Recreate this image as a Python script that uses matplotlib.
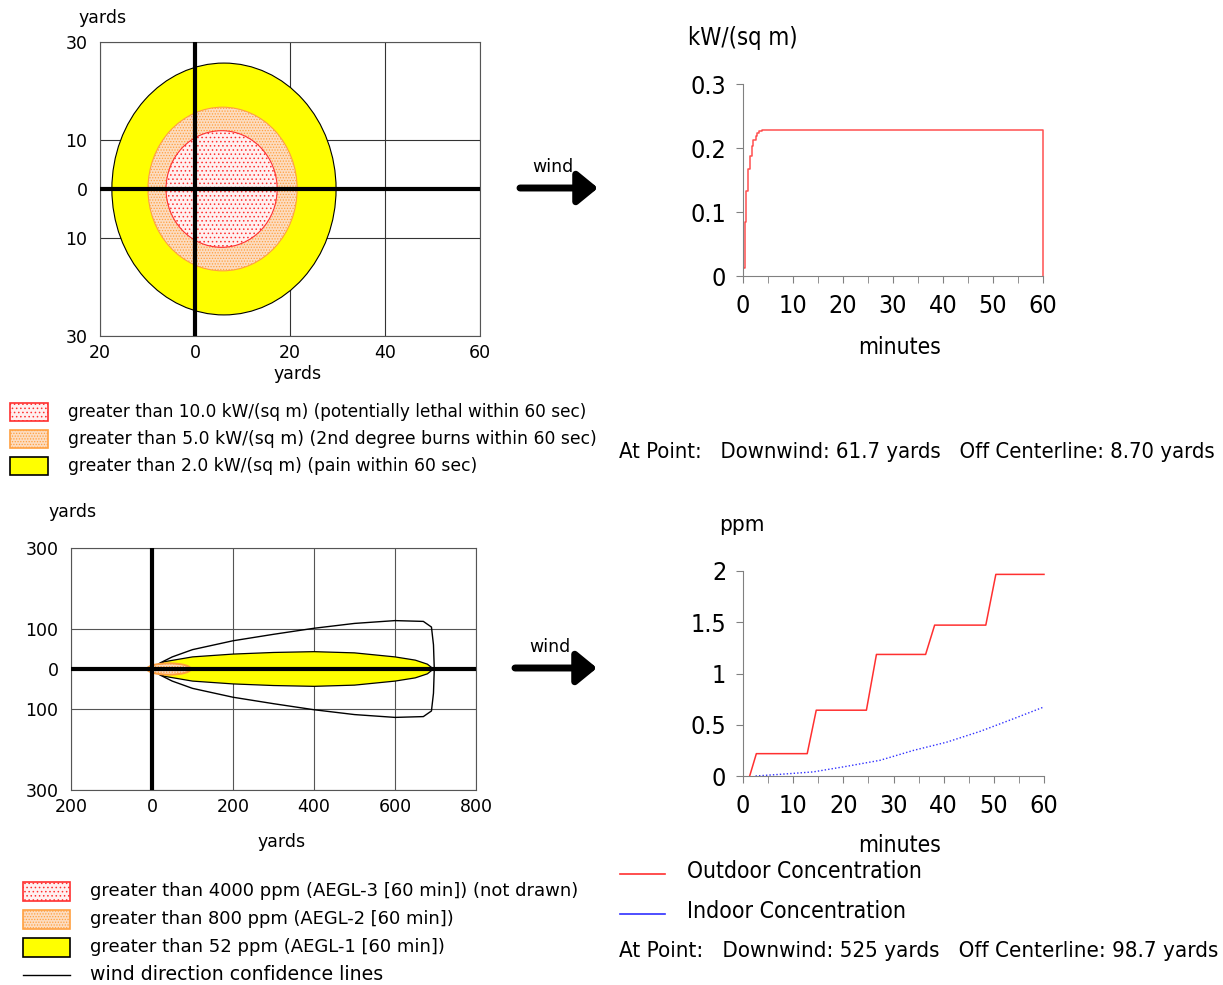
import matplotlib
matplotlib.use("Agg")
import matplotlib.pyplot as plt
from matplotlib import font_manager
from matplotlib.patches import Ellipse, Polygon, Rectangle
from matplotlib.ticker import MultipleLocator
import numpy as np

W, H = 1223, 985

# thermal radiation threat zones (yards): red, orange, yellow
THERMAL_LABELS = [
    "greater than 10.0 kW/(sq m) (potentially lethal within 60 sec)",
    "greater than 5.0 kW/(sq m) (2nd degree burns within 60 sec)",
    "greater than 2.0 kW/(sq m) (pain within 60 sec)",
]
THERMAL_CX = [5.6, 5.8, 6.1]
THERMAL_RX = [11.7, 15.7, 23.6]
THERMAL_RY = [11.9, 16.7, 25.7]

# thermal radiation at the point of interest
HEAT_T = [0.13, 0.33, 0.67, 1.0, 1.33, 1.73, 2.07, 2.53, 2.87, 3.2, 3.87, 60, 60]
HEAT_V = [0.013, 0.084, 0.133, 0.167, 0.188, 0.203, 0.213, 0.218, 0.223, 0.227,
          0.228, 0.228, 0.0]

# toxic threat zones (yards)
TOXIC_LABELS = [
    "greater than 4000 ppm (AEGL-3 [60 min]) (not drawn)",
    "greater than 800 ppm (AEGL-2 [60 min])",
    "greater than 52 ppm (AEGL-1 [60 min])",
    "wind direction confidence lines",
]
PLUME_X = [0, 30, 100, 200, 300, 400, 500, 600, 650, 680, 695]
PLUME_HW = [0, 18, 30, 37, 41, 43, 40, 30, 22, 12, 0]
CONF_X = [0, 20, 50, 100, 200, 300, 400, 500, 600, 670, 690, 695, 697]
CONF_HW = [0, 15, 30, 48, 70, 86, 101, 113, 120, 118, 104, 60, 0]
AEGL2_CX, AEGL2_RX, AEGL2_RY = 42, 54, 14

# concentration at the point of interest
OUT_T = [1.33, 2.66, 12.8, 14.6, 24.6, 26.6, 36.4, 38.2, 48.4, 50.4, 60]
OUT_V = [0, 0.218, 0.218, 0.642, 0.642, 1.186, 1.186, 1.472, 1.472, 1.967, 1.967]
IN_T = [2.5, 7.3, 14, 20.6, 27.3, 34, 40.6, 47.3, 54, 60]
IN_V = [0, 0.016, 0.04, 0.094, 0.153, 0.25, 0.33, 0.436, 0.56, 0.674]

RED_FACE, RED_EDGE = "#fff0f0", "#ff3030"
ORA_FACE, ORA_EDGE = "#fcdcc0", "#ffa040"
YEL = "#ffff00"


def find_narrow():
    # any installed condensed / narrow regular face
    found = {}
    for f in font_manager.fontManager.ttflist:
        base = f.fname.rsplit("/", 1)[-1].lower()
        if any(k in base for k in ("bold", "oblique", "italic", "light")):
            continue
        if "condensed" in base or "narrow" in base:
            found[base] = f.fname
    for pref in ("dejavusanscondensed.ttf", "liberationsansnarrow-regular.ttf"):
        if pref in found:
            return font_manager.FontProperties(fname=found[pref])
    if found:
        return font_manager.FontProperties(fname=sorted(found.values())[0])
    return font_manager.FontProperties(family="DejaVu Sans")


plt.rcParams["font.family"] = ["DejaVu Sans"]
plt.rcParams["hatch.linewidth"] = 0.6
NARROW = find_narrow()

fig = plt.figure(figsize=(W / 100, H / 100), dpi=100)


def px_axes(l, t, r, b):
    return fig.add_axes([l / W, 1 - b / H, (r - l) / W, (b - t) / H])


def fit_text(ax, x, y, s, width, fp=None, **kw):
    t = ax.text(x, y, s, **kw)
    if fp is not None:
        t.set_fontproperties(fp.copy())
        t.set_fontsize(kw.get("fontsize", 18))
    w = t.get_window_extent(fig.canvas.get_renderer()).width
    t.set_fontsize(t.get_fontsize() * width / w)
    return t


def unsigned(v, pos=None):
    return f"{abs(v):g}"


def zone_axes(ax, xlim, ylim, xticks, yticks):
    ax.set_xlim(*xlim)
    ax.set_ylim(*ylim)
    ax.set_xticks(xticks)
    ax.set_yticks(yticks)
    ax.xaxis.set_major_formatter(unsigned)
    ax.yaxis.set_major_formatter(unsigned)
    ax.tick_params(length=0, labelsize=12.5)
    ax.tick_params(axis="y", pad=9)
    ax.tick_params(axis="x", pad=6)
    for s in ax.spines.values():
        s.set_color("#555555")
        s.set_linewidth(0.8)
    ax.axhline(0, color="black", lw=3, zorder=5)
    ax.axvline(0, color="black", lw=3, zorder=5)


def time_axes(ax, ymax, ystep):
    for s in ["top", "right"]:
        ax.spines[s].set_visible(False)
    for s in ["left", "bottom"]:
        ax.spines[s].set_color("#808080")
    ax.set_xlim(0, 60)
    ax.set_ylim(0, ymax)
    ax.xaxis.set_major_locator(MultipleLocator(10))
    ax.xaxis.set_minor_locator(MultipleLocator(5))
    ax.yaxis.set_major_locator(MultipleLocator(ystep))
    ax.yaxis.set_major_formatter(lambda v, p: f"{v:g}")
    ax.tick_params(which="both", direction="out", length=5, color="#808080")
    ax.tick_params(axis="x", pad=8)
    ax.tick_params(axis="y", pad=7)
    for lab in ax.get_xticklabels() + ax.get_yticklabels():
        lab.set_fontproperties(NARROW.copy())
        lab.set_fontsize(18)


# ---- thermal zones ----
ax1 = px_axes(100, 42, 480, 336)
zone_axes(ax1, (-20, 60), (-30, 30), [-20, 0, 20, 40, 60], [-30, -10, 0, 10, 30])
ax1.set_xticks([0, 20, 40], minor=True)
ax1.grid(True, which="both", axis="x", color="#333333", lw=0.8)
ax1.grid(True, axis="y", color="#333333", lw=0.8)
ax1.set_axisbelow(True)
styles = [(RED_FACE, RED_EDGE, "...."), (ORA_FACE, ORA_EDGE, "......"), (YEL, "black", None)]
for i in [2, 1, 0]:
    face, edge, hatch = styles[i]
    ax1.add_patch(Ellipse((THERMAL_CX[i], 0), 2 * THERMAL_RX[i], 2 * THERMAL_RY[i],
                          facecolor=face, edgecolor=edge, hatch=hatch, lw=0.8,
                          zorder=2 + (2 - i) * 0.1))

# ---- thermal radiation at point ----
ax2 = px_axes(743, 84, 1043, 276)
time_axes(ax2, 0.3, 0.1)
ax2.step(HEAT_T, HEAT_V, where="post", color="#ff5050", lw=1.1, clip_on=False)

# ---- toxic zones ----
ax3 = px_axes(71, 548, 476, 790)
zone_axes(ax3, (-200, 800), (-300, 300), [-200, 0, 200, 400, 600, 800],
          [-300, -100, 0, 100, 300])
ax3.grid(True, color="#555555", lw=0.8)
ax3.set_axisbelow(True)
px = np.array(PLUME_X, dtype=float)
hw = np.array(PLUME_HW, dtype=float)
ax3.add_patch(Polygon(np.column_stack([np.r_[px, px[::-1]], np.r_[hw, -hw[::-1]]]),
                      facecolor=YEL, edgecolor="black", lw=0.9, zorder=2))
cx = np.array(CONF_X, dtype=float)
ch = np.array(CONF_HW, dtype=float)
ax3.plot(np.r_[cx, cx[::-1]], np.r_[ch, -ch[::-1]], color="black", lw=1.0, zorder=3)
ax3.add_patch(Ellipse((AEGL2_CX, 0), 2 * AEGL2_RX, 2 * AEGL2_RY, facecolor=ORA_FACE,
                      edgecolor=ORA_EDGE, hatch="......", lw=1.4, zorder=4))

# ---- concentration at point ----
ax4 = px_axes(743, 571, 1044, 776)
time_axes(ax4, 2, 0.5)
ax4.plot(OUT_T, OUT_V, color="#ff3030", lw=1.1, clip_on=False)
ax4.plot(IN_T, IN_V, color="#3030ff", lw=1.0, ls=(0, (1, 1.5)), clip_on=False)

# ---- overlay: labels, legends, arrows ----
ov = fig.add_axes([0, 0, 1, 1], zorder=-1)
ov.set_xlim(0, W)
ov.set_ylim(H, 0)
ov.axis("off")

for (x, y) in [(103, 18), (298, 374), (73, 512), (282, 842)]:
    ov.text(x, y, "yards", ha="center", va="center", fontsize=12.5)

nk = dict(ha="center", va="center")
fit_text(ov, 743, 38, "kW/(sq m)", 110, fp=NARROW, **nk)
fit_text(ov, 900, 347, "minutes", 82, fp=NARROW, **nk)
fit_text(ov, 742, 525, "ppm", 45, fp=NARROW, **nk)
fit_text(ov, 900, 846, "minutes", 82, fp=NARROW, **nk)

# wind arrows
for (tx, ty, x0, x1, y) in [(553, 167, 520, 598, 188), (550, 647, 515, 597, 668)]:
    ov.text(tx, ty, "wind", ha="center", va="center", fontsize=12.5)
    ov.annotate("", xy=(x1, y), xytext=(x0, y),
                arrowprops=dict(arrowstyle="-|>,head_length=0.55,head_width=0.45",
                                lw=5, color="black", mutation_scale=22,
                                capstyle="round", joinstyle="round", shrinkA=0, shrinkB=0))

# thermal legend
th_widths = [522, 528, 410]
for i, (lab, y) in enumerate(zip(THERMAL_LABELS, [412, 439, 466])):
    face, edge, hatch = styles[i]
    ov.add_patch(Rectangle((10, y - 9), 38, 18, facecolor=face, edgecolor=edge,
                           hatch=hatch, lw=1.2))
    fit_text(ov, 68, y, lab, th_widths[i], fontsize=12.5, va="center")

# toxic legend
tx_widths = [490, 366, 355, 294]
for i, (lab, y) in enumerate(zip(TOXIC_LABELS, [891, 919, 947, 975])):
    if i < 3:
        face, edge, hatch = styles[i]
        ov.add_patch(Rectangle((23, y - 9), 47, 19, facecolor=face, edgecolor=edge,
                               hatch=hatch, lw=1.2))
    else:
        ov.plot([23, 70], [y, y], color="black", lw=1)
    fit_text(ov, 90, y, lab, tx_widths[i], fontsize=12.5, va="center")

# concentration legend
ov.plot([620, 665], [874, 874], color="#ff3030", lw=1.2)
ov.plot([620, 665], [914, 914], color="#3030ff", lw=1.2)
fit_text(ov, 687, 872, "Outdoor Concentration", 235, fp=NARROW, va="center")
fit_text(ov, 687, 912, "Indoor Concentration", 219, fp=NARROW, va="center")

fit_text(ov, 619, 452, "At Point:   Downwind: 61.7 yards   Off Centerline: 8.70 yards",
         598, fp=NARROW, va="center")
fit_text(ov, 619, 951, "At Point:   Downwind: 525 yards   Off Centerline: 98.7 yards",
         596, fp=NARROW, va="center")

fig.savefig("out.png", dpi=100)
